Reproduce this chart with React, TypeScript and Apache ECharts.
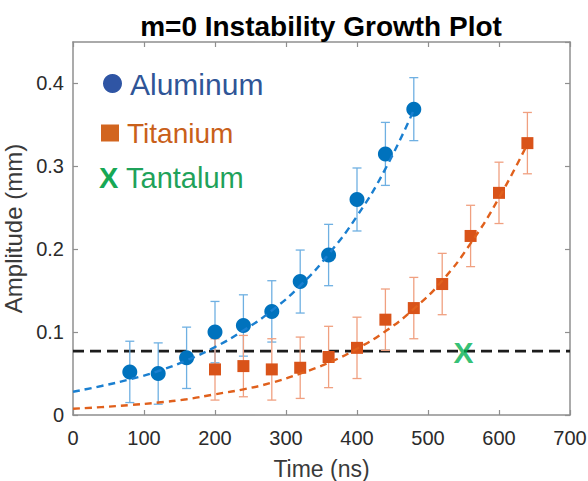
import React, { useEffect, useRef } from "react";
import * as echarts from "echarts";

// ---- data ----
const aluminumTime = [80, 120, 160, 200, 240, 280, 320, 360, 400, 440, 480];
const aluminumAmp = [0.052, 0.05, 0.069, 0.1, 0.108, 0.125, 0.161, 0.193, 0.26, 0.315, 0.369];
const aluminumErr = [0.037, 0.037, 0.037, 0.037, 0.037, 0.037, 0.038, 0.037, 0.038, 0.038, 0.038];

const titaniumTime = [200, 240, 280, 320, 360, 400, 440, 480, 520, 560, 600, 640];
const titaniumAmp = [0.055, 0.059, 0.055, 0.057, 0.07, 0.081, 0.115, 0.129, 0.158, 0.216, 0.268, 0.328];
const titaniumErr = [0.037, 0.037, 0.037, 0.037, 0.037, 0.037, 0.037, 0.037, 0.037, 0.037, 0.037, 0.037];

const tantalumTime = [550];
const tantalumAmp = [0.076];

const aluminumFitTime = [0, 40, 80, 120, 160, 200, 240, 280, 320, 360, 400, 440, 480];
const aluminumFitAmp = [0.028, 0.035, 0.043, 0.053, 0.066, 0.082, 0.102, 0.126, 0.156, 0.194, 0.24, 0.297, 0.368];

const titaniumFitTime = [0, 40, 80, 120, 160, 200, 240, 280, 320, 360, 400, 440, 480, 520, 560, 600, 640];
const titaniumFitAmp = [0.0075, 0.0095, 0.012, 0.015, 0.019, 0.025, 0.031, 0.039, 0.05, 0.063, 0.08, 0.101, 0.128, 0.162, 0.207, 0.262, 0.327];

const thresholdTime = [0, 700];
const thresholdAmp = [0.077, 0.077];

const xTicks = [0, 100, 200, 300, 400, 500, 600, 700];
const yTicks = [0, 0.1, 0.2, 0.3, 0.4];

const FONT = "'Liberation Sans', Arial, sans-serif";

function errorBarSeries(times: number[], amps: number[], errs: number[], color: string) {
  return {
    type: "custom",
    z: 2,
    silent: true,
    data: times.map((t, i) => [t, amps[i] - errs[i], amps[i] + errs[i]]),
    encode: { x: 0, y: [1, 2] },
    renderItem: (params: any, api: any) => {
      const x = api.value(0);
      const lo = api.coord([x, api.value(1)]);
      const hi = api.coord([x, api.value(2)]);
      const hw = 4.5;
      const style = { stroke: color, lineWidth: 1.3, fill: "none" };
      return {
        type: "group",
        children: [
          { type: "line", shape: { x1: hi[0], y1: hi[1], x2: lo[0], y2: lo[1] }, style },
          { type: "line", shape: { x1: hi[0] - hw, y1: hi[1], x2: hi[0] + hw, y2: hi[1] }, style },
          { type: "line", shape: { x1: lo[0] - hw, y1: lo[1], x2: lo[0] + hw, y2: lo[1] }, style },
        ],
      };
    },
  };
}

export default function App() {
  const ref = useRef<HTMLDivElement>(null);
  useEffect(() => {
    if (!ref.current) return;
    const chart = echarts.init(ref.current, undefined, { renderer: "svg" });
    const axisLine = { show: true, onZero: false, lineStyle: { color: "#8f8f8f", width: 1.5 } };
    const axisTick = { show: true, inside: true, length: 5, lineStyle: { color: "#8f8f8f", width: 1.2 } };
    const labelStyle = { fontSize: 20, color: "#2b2b2b", fontFamily: FONT };
    chart.setOption({
      animation: false,
      backgroundColor: "#ffffff",
      title: {
        text: "m=0 Instability Growth Plot",
        left: 316,
        top: 7,
        textAlign: "center",
        textStyle: { fontSize: 28, fontWeight: "bold", color: "#000", fontFamily: FONT },
      },
      grid: { left: 73, right: 18, top: 42, bottom: 66, containLabel: false, outerBoundsMode: "none" },
      xAxis: [
        {
          type: "value",
          min: xTicks[0],
          max: xTicks[xTicks.length - 1],
          interval: 100,
          position: "bottom",
          name: "Time (ns)",
          nameLocation: "middle",
          nameGap: 42,
          nameTextStyle: { fontSize: 23, color: "#3a3a3a", fontFamily: FONT },
          axisLine,
          axisTick,
          splitLine: { show: false },
          axisLabel: { ...labelStyle, margin: 13 },
        },
        {
          type: "value",
          min: xTicks[0],
          max: xTicks[xTicks.length - 1],
          interval: 100,
          position: "top",
          axisLine,
          axisTick,
          splitLine: { show: false },
          axisLabel: { show: false },
        },
      ],
      yAxis: [
        {
          type: "value",
          min: yTicks[0],
          max: 0.45,
          interval: 0.1,
          position: "left",
          name: "Amplitude (mm)",
          nameLocation: "middle",
          nameGap: 41,
          nameTextStyle: { fontSize: 24, color: "#3a3a3a", fontFamily: FONT },
          axisLine,
          axisTick,
          splitLine: { show: false },
          axisLabel: { ...labelStyle, margin: 9, showMaxLabel: false },
        },
        {
          type: "value",
          min: yTicks[0],
          max: 0.45,
          interval: 0.1,
          position: "right",
          axisLine,
          axisTick,
          splitLine: { show: false },
          axisLabel: { show: false },
        },
      ],
      series: [
        {
          type: "line",
          z: 1,
          data: thresholdTime.map((t, i) => [t, thresholdAmp[i]]),
          showSymbol: false,
          silent: true,
          lineStyle: { color: "#1c1c1c", width: 2.8, type: [11, 6] },
        },
        errorBarSeries(aluminumTime, aluminumAmp, aluminumErr, "#6fb0e2"),
        errorBarSeries(titaniumTime, titaniumAmp, titaniumErr, "#f0a080"),
        {
          type: "scatter",
          z: 3,
          data: aluminumTime.map((t, i) => [t, aluminumAmp[i]]),
          symbol: "circle",
          symbolSize: 15,
          itemStyle: { color: "#0072BD", opacity: 1 },
        },
        {
          type: "scatter",
          z: 3,
          data: titaniumTime.map((t, i) => [t, titaniumAmp[i]]),
          symbol: "rect",
          symbolSize: 12,
          itemStyle: { color: "#D95319", opacity: 1 },
        },
        {
          type: "line",
          z: 4,
          data: aluminumFitTime.map((t, i) => [t, aluminumFitAmp[i]]),
          smooth: true,
          showSymbol: false,
          silent: true,
          lineStyle: { color: "#1a7fd0", width: 2.4, type: [7, 5] },
        },
        {
          type: "line",
          z: 4,
          data: titaniumFitTime.map((t, i) => [t, titaniumFitAmp[i]]),
          smooth: true,
          showSymbol: false,
          silent: true,
          lineStyle: { color: "#e0601c", width: 2.4, type: [7, 5] },
        },
        {
          type: "scatter",
          z: 5,
          data: tantalumTime.map((t, i) => [t, tantalumAmp[i]]),
          symbol: "circle",
          symbolSize: 1,
          itemStyle: { color: "rgba(0,0,0,0)" },
          label: {
            show: true,
            position: "inside",
            formatter: "X",
            fontSize: 30,
            fontWeight: "bold",
            color: "#00B050",
            fontFamily: FONT,
          },
        },
      ],
      graphic: [
        { type: "circle", shape: { cx: 112.5, cy: 83.5, r: 9.5 }, style: { fill: "#2F55A4" } },
        {
          type: "text",
          x: 130,
          y: 84,
          style: { text: "Aluminum", fontSize: 30, fill: "#2F5597", fontFamily: FONT, verticalAlign: "middle" },
        },
        { type: "rect", shape: { x: 101, y: 124.5, width: 18, height: 17 }, style: { fill: "#D2651F" } },
        {
          type: "text",
          x: 127,
          y: 133,
          style: { text: "Titanium", fontSize: 28, fill: "#C9601A", fontFamily: FONT, verticalAlign: "middle" },
        },
        {
          type: "text",
          x: 99,
          y: 178,
          style: { text: "X", fontSize: 29, fontWeight: "bold", fill: "#17A855", fontFamily: FONT, verticalAlign: "middle" },
        },
        {
          type: "text",
          x: 126,
          y: 178,
          style: { text: "Tantalum", fontSize: 29, fill: "#1FA25A", fontFamily: FONT, verticalAlign: "middle" },
        },
      ],
    });
    return () => chart.dispose();
  }, []);
  return (
    <div
      ref={ref}
      style={{ position: "fixed", left: 0, top: 0, width: 588, height: 481, background: "#fff" }}
    />
  );
}
